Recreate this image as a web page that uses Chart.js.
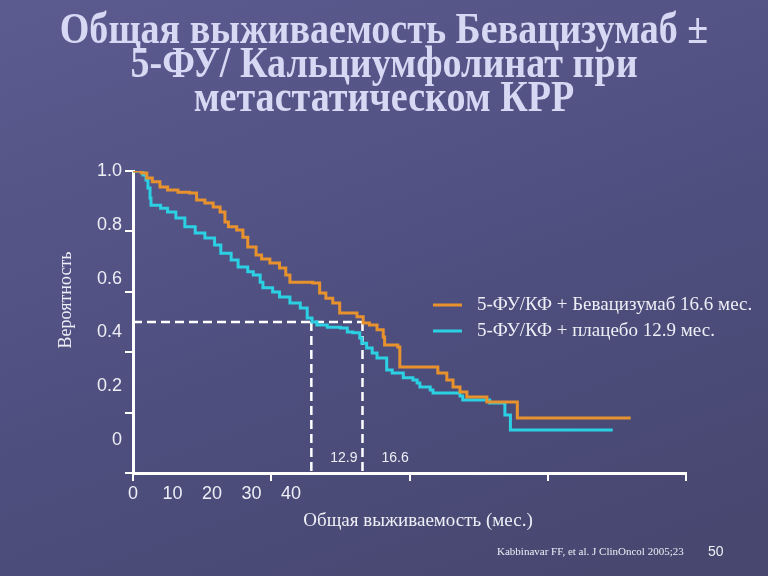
<!DOCTYPE html>
<html>
<head>
<meta charset="utf-8">
<script src="https://cdn.jsdelivr.net/npm/chart.js@4/dist/chart.umd.min.js"></script>
<style>
  html, body { margin: 0; padding: 0; }
  body { width: 768px; height: 576px; background: linear-gradient(160deg, #5b5b90 0%, #4f4f80 50%, #46466e 100%); }
  #wrap { position: relative; width: 768px; height: 576px; }
</style>
</head>
<body>
<div id="wrap"><canvas id="os" width="768" height="576"></canvas></div>
<script>
// Kaplan-Meier steps (months, survival probability)
var bevTime = [0, 0.6, 1.0, 1.4, 1.95, 2.5, 3.25, 4.1, 4.6, 5.2, 5.8, 6.3, 6.65, 6.9, 7.5, 7.95, 8.3, 8.9, 9.3, 9.9, 10.6, 11.05, 11.35, 13.0, 13.5, 13.95, 14.45, 14.95, 16.2, 16.65, 17.1, 17.65, 18.1, 18.2, 19.15, 19.3, 22.05, 22.7, 23.15, 23.65, 24.15, 25.6, 27.8, 36.0];
var bevSurv = [1.0, 0.993, 0.977, 0.964, 0.947, 0.937, 0.930, 0.927, 0.904, 0.894, 0.881, 0.864, 0.831, 0.815, 0.805, 0.781, 0.748, 0.722, 0.709, 0.695, 0.679, 0.656, 0.632, 0.629, 0.596, 0.579, 0.563, 0.530, 0.517, 0.497, 0.490, 0.474, 0.450, 0.424, 0.417, 0.351, 0.331, 0.308, 0.285, 0.268, 0.252, 0.235, 0.182, 0.182];

var plaTime = [0, 0.72, 0.94, 1.08, 1.23, 1.3, 2.0, 2.5, 3.1, 3.75, 4.5, 5.2, 5.9, 6.35, 7.1, 7.6, 8.3, 8.7, 9.2, 9.4, 10.1, 10.6, 11.35, 12.1, 12.6, 12.95, 13.3, 14.05, 15.0, 15.5, 15.9, 16.4, 16.55, 16.9, 17.3, 17.65, 18.35, 18.75, 19.55, 20.25, 20.55, 20.75, 21.5, 21.7, 23.65, 23.85, 25.8, 26.9, 27.3, 34.7];
var plaSurv = [1.0, 0.987, 0.970, 0.944, 0.911, 0.887, 0.877, 0.864, 0.844, 0.815, 0.795, 0.778, 0.755, 0.728, 0.705, 0.682, 0.666, 0.656, 0.632, 0.613, 0.599, 0.583, 0.563, 0.546, 0.513, 0.500, 0.490, 0.483, 0.480, 0.467, 0.464, 0.447, 0.430, 0.414, 0.397, 0.381, 0.341, 0.331, 0.315, 0.308, 0.298, 0.285, 0.275, 0.265, 0.255, 0.242, 0.232, 0.192, 0.142, 0.142];

var medianBev = 16.6;
var medianPla = 12.9;
var medianSurv = 0.5;

var xTicks = [0, 10, 20, 30, 40];
var yTicks = [0, 0.2, 0.4, 0.6, 0.8, 1.0];

var titleLines = ['Общая выживаемость Бевацизумаб ±', '5-ФУ/ Кальциумфолинат при', 'метастатическом КРР'];
var seriesNames = ['5-ФУ/КФ + Бевацизумаб 16.6 мес.', '5-ФУ/КФ + плацебо 12.9 мес.'];
var seriesColors = ['#e8922e', '#2bd0e2'];

function pts(t, s) {
  return t.map(function (v, i) { return { x: v, y: s[i] }; });
}

function setTicks(list) {
  return function (scale) {
    scale.ticks = list.map(function (v) { return { value: v }; });
  };
}

var textColor = '#eeeef6';
var serif = '"Liberation Serif", "Times New Roman", serif';
var sans = '"Liberation Sans", Arial, sans-serif';

var extras = {
  id: 'extras',
  afterDraw: function (chart) {
    var ctx = chart.ctx;
    var x = chart.scales.x;
    var a = chart.chartArea;
    ctx.save();

    // slide title: tall, slightly narrow bold serif
    ctx.save();
    ctx.fillStyle = '#d7d8f3';
    ctx.font = 'bold 44px ' + serif;
    ctx.textAlign = 'center';
    ctx.textBaseline = 'middle';
    ctx.translate(384, 0);
    ctx.scale(0.865, 1);
    titleLines.forEach(function (t, i) { ctx.fillText(t, 0, 32 + i * 34); });
    ctx.restore();

    ctx.fillStyle = textColor;

    // median values near the axis
    ctx.font = '14px ' + sans;
    ctx.textBaseline = 'middle';
    ctx.textAlign = 'right';
    ctx.fillText(String(medianPla), x.getPixelForValue(medianBev) - 5, a.bottom - 15);
    ctx.textAlign = 'left';
    ctx.fillText(String(medianBev), x.getPixelForValue(medianBev) + 19, a.bottom - 15);

    // legend
    ctx.font = '19px ' + serif;
    for (var i = 0; i < seriesNames.length; i++) {
      var ly = 305 + i * 26;
      ctx.strokeStyle = seriesColors[i];
      ctx.lineWidth = 3;
      ctx.beginPath();
      ctx.moveTo(433, ly);
      ctx.lineTo(462, ly);
      ctx.stroke();
      ctx.fillText(seriesNames[i], 477, ly);
    }

    // axis titles
    ctx.textAlign = 'center';
    ctx.font = '19px ' + serif;
    ctx.fillText('Общая выживаемость (мес.)', 418, 521);
    ctx.save();
    ctx.translate(66, 300);
    ctx.rotate(-Math.PI / 2);
    ctx.font = '18px ' + serif;
    ctx.fillText('Вероятность', 0, 0);
    ctx.restore();

    // source and slide number
    ctx.textAlign = 'left';
    ctx.font = '11px ' + serif;
    ctx.fillText('Kabbinavar FF, et al. J ClinOncol 2005;23', 497, 552);
    ctx.font = '14px ' + sans;
    ctx.fillText('50', 708, 552);
    ctx.restore();
  }
};

var dash = { borderColor: '#ffffff', borderWidth: 2.5, borderDash: [9, 5], pointRadius: 0, fill: false };

new Chart(document.getElementById('os'), {
  type: 'line',
  data: {
    datasets: [
      { label: seriesNames[0], data: pts(bevTime, bevSurv), borderColor: seriesColors[0], borderWidth: 3, stepped: true, pointRadius: 0 },
      { label: seriesNames[1], data: pts(plaTime, plaSurv), borderColor: seriesColors[1], borderWidth: 3, stepped: true, pointRadius: 0 },
      Object.assign({ data: [{ x: 0, y: medianSurv }, { x: medianBev, y: medianSurv }] }, dash),
      Object.assign({ data: [{ x: medianPla, y: medianSurv }, { x: medianPla, y: 0 }] }, dash),
      Object.assign({ data: [{ x: medianBev, y: medianSurv }, { x: medianBev, y: 0 }] }, dash)
    ]
  },
  options: {
    responsive: false,
    animation: false,
    layout: { padding: { left: 0, right: 0, top: 171, bottom: 39 } },
    plugins: {
      legend: { display: false },
      tooltip: { enabled: false },
      title: { display: false }
    },
    scales: {
      x: {
        type: 'linear', min: 0, max: 40, weight: 0,
        afterBuildTicks: setTicks(xTicks),
        ticks: { display: false },
        grid: { drawOnChartArea: false, drawTicks: true, tickLength: 8, color: '#ffffff', lineWidth: 2 },
        border: { color: '#ffffff', width: 3 },
        afterFit: function (s) { s.height = 8; }
      },
      xl: {
        type: 'linear', position: 'bottom', min: 0, max: 140, weight: 1,
        afterBuildTicks: setTicks(xTicks),
        grid: { display: false, drawTicks: false },
        border: { display: false },
        ticks: { color: textColor, padding: 2, maxRotation: 0, autoSkip: false, font: { family: sans, size: 18 } },
        afterFit: function (s) { s.height = 56; }
      },
      y: {
        type: 'linear', min: 0, max: 1, weight: 0,
        afterBuildTicks: setTicks(yTicks),
        ticks: { display: false },
        grid: { drawOnChartArea: false, drawTicks: true, tickLength: 8, color: '#ffffff', lineWidth: 2 },
        border: { color: '#ffffff', width: 3 },
        afterFit: function (s) { s.width = 8; }
      },
      yl: {
        type: 'linear', position: 'left', min: -0.123, max: 1, weight: 1,
        afterBuildTicks: setTicks(yTicks),
        grid: { display: false, drawTicks: false },
        border: { display: false },
        ticks: {
          color: textColor, padding: 3,
          font: { family: sans, size: 18 },
          callback: function (v) { return v === 0 ? '0' : v.toFixed(1); }
        },
        afterFit: function (s) { s.width = 125; }
      },
      // empty right-hand margin so the plot ends where the slide's axis ends
      yr: {
        type: 'linear', position: 'right', min: 0, max: 1,
        grid: { display: false, drawTicks: false },
        border: { display: false },
        ticks: { display: false },
        afterFit: function (s) { s.width = 82; }
      }
    }
  },
  plugins: [extras]
});
</script>
</body>
</html>
